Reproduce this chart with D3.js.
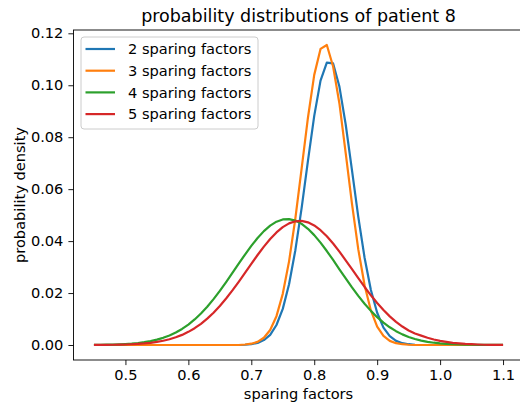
<!DOCTYPE html>
<html>
<head>
<meta charset="utf-8">
<script src="https://cdn.jsdelivr.net/npm/d3@7"></script>
<style>
  html, body { margin: 0; padding: 0; background: #fff; }
  svg { display: block; overflow: hidden; font-family: "DejaVu Sans", sans-serif; }
</style>
</head>
<body>
<div id="chart"></div>
<script>
const sparingFactors = [
  0.45, 0.46, 0.47, 0.48, 0.49, 0.50, 0.51, 0.52, 0.53, 0.54, 0.55,
  0.56, 0.57, 0.58, 0.59, 0.60, 0.61, 0.62, 0.63, 0.64, 0.65, 0.66,
  0.67, 0.68, 0.69, 0.70, 0.71, 0.72, 0.73, 0.74, 0.75, 0.76, 0.77,
  0.78, 0.79, 0.80, 0.81, 0.82, 0.83, 0.84, 0.85, 0.86, 0.87, 0.88,
  0.89, 0.90, 0.91, 0.92, 0.93, 0.94, 0.95, 0.96, 0.97, 0.98, 0.99,
  1.00, 1.01, 1.02, 1.03, 1.04, 1.05, 1.06, 1.07, 1.08, 1.09, 1.10
]
const twoFactors = [
  0, 0, 0, 0, 0, 0, 0, 0, 0, 0, 0,
  0, 0, 0, 0, 0, 0, 0, 0, 0, 0, 0,
  0, 0, 0.0001, 0.0003, 0.0008, 0.0019, 0.0039, 0.0077, 0.0139, 0.0234, 0.0365,
  0.0528, 0.0709, 0.0882, 0.1018, 0.1087, 0.1084, 0.0995, 0.0849, 0.0672, 0.0493, 0.0336,
  0.0212, 0.0124, 0.0067, 0.0034, 0.0016, 0.0007, 0.0003, 0.0001, 0, 0, 0,
  0, 0, 0, 0, 0, 0, 0, 0, 0, 0, 0
]
const threeFactors = [
  0, 0, 0, 0, 0, 0, 0, 0, 0, 0, 0,
  0, 0, 0, 0, 0, 0, 0, 0, 0, 0, 0,
  0, 0, 0.0002, 0.0005, 0.0012, 0.0028, 0.0058, 0.0111, 0.0197, 0.0322, 0.0487,
  0.0680, 0.0875, 0.1040, 0.1140, 0.1155, 0.1072, 0.0930, 0.0739, 0.0543, 0.0368, 0.0230,
  0.0133, 0.0071, 0.0035, 0.0016, 0.0007, 0.0003, 0.0001, 0, 0, 0, 0,
  0, 0, 0, 0, 0, 0, 0, 0, 0, 0, 0
]
const fourFactors = [
  0.00005, 0.00007, 0.00011, 0.00017, 0.00025, 0.00037, 0.00054, 0.00077, 0.00108, 0.0015, 0.00205,
  0.00276, 0.00367, 0.0048, 0.00619, 0.00786, 0.00984, 0.01214, 0.01474, 0.01765, 0.02083, 0.02422,
  0.02774, 0.03131, 0.03482, 0.03816, 0.0412, 0.04384, 0.04596, 0.04748, 0.04833, 0.04847, 0.0479,
  0.04664, 0.04475, 0.04231, 0.03942, 0.03618, 0.03273, 0.02916, 0.02561, 0.02217, 0.0189, 0.01587,
  0.01314, 0.01072, 0.00861, 0.00682, 0.00532, 0.00409, 0.0031, 0.00231, 0.0017, 0.00123, 0.00088,
  0.00062, 0.00043, 0.00029, 0.0002, 0.00013, 0.00009, 0.00006, 0.00004, 0.00002, 0.00001, 0.00001
]
const fiveFactors = [
  0.00002, 0.00004, 0.00006, 0.00009, 0.00013, 0.0002, 0.00029, 0.00042, 0.0006, 0.00085, 0.00119,
  0.00163, 0.00221, 0.00296, 0.00389, 0.00506, 0.00647, 0.00816, 0.01015, 0.01244, 0.01504, 0.01791,
  0.02103, 0.02434, 0.02778, 0.03125, 0.03465, 0.03787, 0.0408, 0.04333, 0.04537, 0.04682, 0.04763,
  0.04777, 0.04723, 0.04602, 0.04421, 0.04186, 0.03908, 0.03596, 0.03262, 0.02917, 0.02571, 0.02234,
  0.01913, 0.01615, 0.01345, 0.01103, 0.00892, 0.00711, 0.0056, 0.0044, 0.0036, 0.0028, 0.0021,
  0.0016, 0.0012, 0.0008, 0.0006, 0.0004, 0.0003, 0.0002, 0.0001, 0.00006, 0.00004, 0.00003
]
const seriesNames = ['2 sparing factors', '3 sparing factors', '4 sparing factors', '5 sparing factors']
const xTicks = [0.5, 0.6, 0.7, 0.8, 0.9, 1.0, 1.1]
const yTicks = [0, 0.02, 0.04, 0.06, 0.08, 0.10, 0.12]

const colors = ['#1f77b4', '#ff7f0e', '#2ca02c', '#d62728']
const series = [twoFactors, threeFactors, fourFactors, fiveFactors].map((values, i) => ({
  name: seriesNames[i],
  color: colors[i],
  points: values.map((v, j) => [sparingFactors[j], v])
}))

const width = 520, height = 410
const plot = { left: 73.5, right: 523.5, top: 30, bottom: 360 }
const fontSize = 14.6

const x = d3.scaleLinear().domain([0.4175, 1.1325]).range([plot.left, plot.right])
const y = d3.scaleLinear().domain([-0.005775, 0.121275]).range([plot.bottom, plot.top])

const svg = d3.select('#chart').append('svg')
  .attr('width', width)
  .attr('height', height)
  .attr('viewBox', `0 0 ${width} ${height}`)

svg.append('defs').append('clipPath').attr('id', 'clip')
  .append('rect')
  .attr('x', plot.left).attr('y', plot.top)
  .attr('width', plot.right - plot.left).attr('height', plot.bottom - plot.top)

const line = d3.line().x(d => x(d[0])).y(d => y(d[1]))

svg.append('g').attr('clip-path', 'url(#clip)')
  .selectAll('path')
  .data(series)
  .join('path')
  .attr('d', s => line(s.points))
  .attr('fill', 'none')
  .attr('stroke', s => s.color)
  .attr('stroke-width', 2.2)
  .attr('stroke-linejoin', 'round')

const styleAxis = g => {
  g.select('.domain').remove()
  g.selectAll('.tick line').attr('stroke', '#000').attr('stroke-width', 0.9)
  g.selectAll('.tick text').attr('fill', '#000').attr('font-size', fontSize)
    .attr('font-family', '"DejaVu Sans", sans-serif')
}

svg.append('g')
  .attr('transform', `translate(0,${plot.bottom})`)
  .call(d3.axisBottom(x).tickValues(xTicks).tickFormat(d3.format('.1f')).tickSizeInner(5.1).tickSizeOuter(0).tickPadding(5))
  .call(styleAxis)

svg.append('g')
  .attr('transform', `translate(${plot.left},0)`)
  .call(d3.axisLeft(y).tickValues(yTicks).tickFormat(d3.format('.2f')).tickSizeInner(5.1).tickSizeOuter(0).tickPadding(5))
  .call(styleAxis)

// spines
svg.append('rect')
  .attr('x', plot.left).attr('y', plot.top)
  .attr('width', plot.right - plot.left).attr('height', plot.bottom - plot.top)
  .attr('fill', 'none').attr('stroke', '#000').attr('stroke-width', 0.9)

svg.append('text')
  .attr('x', (plot.left + plot.right) / 2).attr('y', 21.5)
  .attr('text-anchor', 'middle').attr('font-size', 17.5).attr('fill', '#000')
  .text('probability distributions of patient 8')

svg.append('text')
  .attr('x', (plot.left + plot.right) / 2).attr('y', 398.5)
  .attr('text-anchor', 'middle').attr('font-size', fontSize).attr('fill', '#000')
  .text('sparing factors')

svg.append('text')
  .attr('transform', `translate(24.5,${(plot.top + plot.bottom) / 2}) rotate(-90)`)
  .attr('text-anchor', 'middle').attr('font-size', fontSize).attr('fill', '#000')
  .text('probability density')

const legend = svg.append('g').attr('transform', 'translate(81,37)')
legend.append('rect')
  .attr('width', 177).attr('height', 92)
  .attr('rx', 3).attr('ry', 3)
  .attr('fill', '#fff').attr('fill-opacity', 0.8)
  .attr('stroke', '#ccc').attr('stroke-width', 1)

const rows = legend.selectAll('g.row')
  .data(series)
  .join('g')
  .attr('class', 'row')
  .attr('transform', (d, i) => `translate(0,${12 + i * 21.7})`)
rows.append('line')
  .attr('x1', 4.5).attr('x2', 34)
  .attr('stroke', d => d.color).attr('stroke-width', 2.2)
rows.append('text')
  .attr('x', 47).attr('dy', '0.36em')
  .attr('font-size', fontSize).attr('fill', '#000')
  .text(d => d.name)
</script>
</body>
</html>
